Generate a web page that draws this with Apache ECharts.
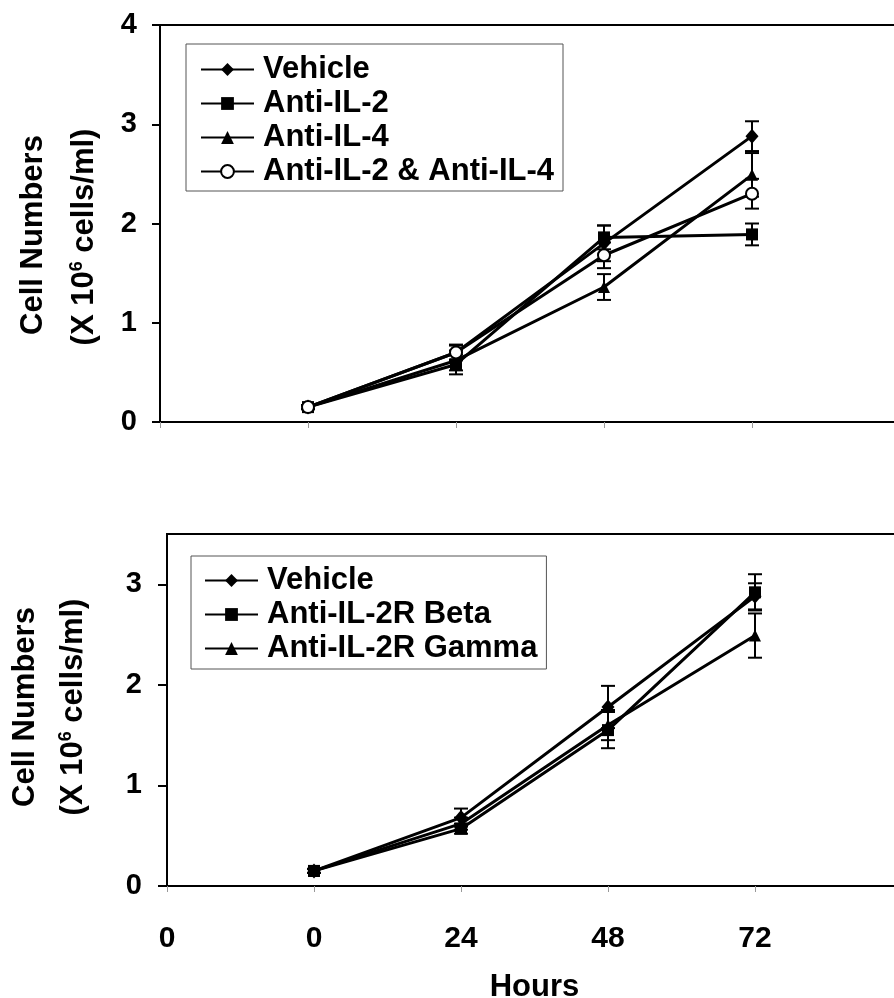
<!DOCTYPE html>
<html>
<head>
<meta charset="utf-8">
<script src="https://cdn.jsdelivr.net/npm/echarts@6/dist/echarts.min.js"></script>
<style>
  html, body { margin: 0; padding: 0; background: #fff; }
  #chart { width: 894px; height: 998px; }
</style>
</head>
<body>
<div id="chart"></div>
<script>
// Category ticks along the time axis; samples sit on categories 1..4
const xTickLabels = ['0', '0', '24', '48', '72', ''];
const hours = ['0', '24', '48', '72'];

// Upper panel: neutralising antibodies to IL-2 / IL-4
const vehicleA = [0.15, 0.70, 1.80, 2.88];
const vehicleAErr = [0.02, 0.08, 0.18, 0.15];
const antiIL2A = [0.15, 0.58, 1.86, 1.89];
const antiIL2AErr = [0.02, 0.10, 0.12, 0.11];
const antiIL4A = [0.15, 0.62, 1.36, 2.49];
const antiIL4AErr = [0.02, 0.10, 0.13, 0.22];
const comboA = [0.15, 0.70, 1.68, 2.30];
const comboAErr = [0.02, 0.07, 0.13, 0.15];

// Lower panel: antibodies to IL-2 receptor chains
const vehicleB = [0.15, 0.68, 1.78, 2.88];
const vehicleBErr = [0.02, 0.09, 0.21, 0.13];
const betaB = [0.15, 0.57, 1.55, 2.92];
const betaBErr = [0.02, 0.05, 0.18, 0.18];
const gammaB = [0.15, 0.62, 1.60, 2.49];
const gammaBErr = [0.02, 0.06, 0.15, 0.22];

const yTicksA = [0, 1, 2, 3, 4];
const yTicksB = [0, 1, 2, 3];

const FONT = "'Liberation Sans', Arial, sans-serif";

function lineSeries(name, values, symbol, panel, hollow) {
  return {
    type: 'line',
    name: name,
    xAxisIndex: panel,
    yAxisIndex: panel,
    data: values.map((v, i) => [i + 1, v]),
    symbol: symbol,
    symbolSize: symbol === 'diamond' ? [13, 15] : 12,
    showSymbol: true,
    lineStyle: { color: '#000', width: 3 },
    itemStyle: hollow
      ? { color: '#fff', borderColor: '#000', borderWidth: 2 }
      : { color: '#000', borderWidth: 0 },
    emphasis: { disabled: true },
    z: 3
  };
}

function errSeries(key, values, errs, panel) {
  return {
    type: 'custom',
    name: 'err-' + key,
    xAxisIndex: panel,
    yAxisIndex: panel,
    z: 2,
    silent: true,
    encode: { x: 0, y: [1, 2] },
    data: values.map((v, i) => [i + 1, v - errs[i], v + errs[i]]),
    renderItem: function (params, api) {
      const lo = api.coord([api.value(0), api.value(1)]);
      const hi = api.coord([api.value(0), api.value(2)]);
      const hw = 7;
      const st = { stroke: '#000', lineWidth: 2 };
      return {
        type: 'group',
        children: [
          { type: 'line', shape: { x1: lo[0], y1: lo[1], x2: hi[0], y2: hi[1] }, style: st },
          { type: 'line', shape: { x1: lo[0] - hw, y1: lo[1], x2: lo[0] + hw, y2: lo[1] }, style: st },
          { type: 'line', shape: { x1: hi[0] - hw, y1: hi[1], x2: hi[0] + hw, y2: hi[1] }, style: st }
        ]
      };
    }
  };
}

function xAxis(panel, showLabels) {
  return {
    type: 'category',
    gridIndex: panel,
    data: xTickLabels,
    boundaryGap: false,
    axisLine: { lineStyle: { color: '#000', width: 2 } },
    axisTick: { show: true, interval: 0, length: 6, lineStyle: { color: '#999', width: 1 } },
    axisLabel: {
      show: showLabels, interval: 0, margin: 38,
      fontFamily: FONT, fontWeight: 'bold', fontSize: 30, color: '#000'
    },
    splitLine: { show: false },
    name: showLabels ? 'Hours' : '',
    nameLocation: 'middle',
    nameGap: 86,
    nameTextStyle: { fontFamily: FONT, fontWeight: 'bold', fontSize: 31, color: '#000' }
  };
}

function yAxis(panel, max, ticks, margin, tickLen) {
  return {
    type: 'value',
    gridIndex: panel,
    min: 0,
    max: max,
    interval: 1,
    axisLine: { show: true, lineStyle: { color: '#000', width: 2 } },
    axisTick: { show: true, length: tickLen, customValues: ticks, lineStyle: { color: '#000', width: 2 } },
    axisLabel: {
      customValues: ticks, margin: margin,
      fontFamily: FONT, fontWeight: 'bold', fontSize: 29, color: '#000'
    },
    splitLine: { show: false }
  };
}

function legend(names, left, top, padding) {
  return {
    data: names,
    orient: 'vertical',
    left: left,
    top: top,
    padding: padding,
    itemWidth: 53,
    itemHeight: 16,
    itemGap: 3,
    borderColor: '#555',
    borderWidth: 1,
    backgroundColor: '#fff',
    selectedMode: false,
    textStyle: {
      fontFamily: FONT, fontWeight: 'bold', fontSize: 31, lineHeight: 31,
      color: '#000', padding: [0, 0, 0, 4]
    }
  };
}

function yName(x, y, rich) {
  return {
    type: 'text',
    x: x, y: y,
    rotation: Math.PI / 2,
    style: {
      text: rich,
      align: 'center',
      verticalAlign: 'middle',
      rich: {
        a: { fontFamily: FONT, fontWeight: 'bold', fontSize: 31, lineHeight: 31, fill: '#000' },
        s: { fontFamily: FONT, fontWeight: 'bold', fontSize: 18, fill: '#000', verticalAlign: 'top' }
      }
    }
  };
}

const chart = echarts.init(document.getElementById('chart'), null, { renderer: 'canvas' });
chart.setOption({
  animation: false,
  backgroundColor: '#fff',
  grid: [
    { left: 160, top: 25, width: 740, height: 397, outerBoundsMode: 'none', containLabel: false,
      show: true, borderColor: '#000', borderWidth: 2, backgroundColor: 'transparent' },
    { left: 167, top: 534, width: 735, height: 352, outerBoundsMode: 'none', containLabel: false,
      show: true, borderColor: '#000', borderWidth: 2, backgroundColor: 'transparent' }
  ],
  xAxis: [xAxis(0, false), xAxis(1, true)],
  yAxis: [yAxis(0, 4, yTicksA, 23, 8), yAxis(1, 3.5, yTicksB, 25, 9)],
  legend: [
    legend(['Vehicle', 'Anti-IL-2', 'Anti-IL-4', 'Anti-IL-2 & Anti-IL-4'], 186, 44, [10, 9, 4, 14]),
    legend(['Vehicle', 'Anti-IL-2R Beta', 'Anti-IL-2R Gamma'], 191, 556, [9, 9, 5, 13])
  ],
  graphic: [
    yName(33, 235, '{a|Cell Numbers}'),
    yName(84, 237, '{a|(X 10}{s|6}{a| cells/ml)}'),
    yName(25, 707, '{a|Cell Numbers}'),
    yName(73, 707, '{a|(X 10}{s|6}{a| cells/ml)}')
  ],
  series: [
    errSeries('vehA', vehicleA, vehicleAErr, 0),
    errSeries('il2A', antiIL2A, antiIL2AErr, 0),
    errSeries('il4A', antiIL4A, antiIL4AErr, 0),
    errSeries('comboA', comboA, comboAErr, 0),
    lineSeries('Vehicle', vehicleA, 'diamond', 0, false),
    lineSeries('Anti-IL-2', antiIL2A, 'rect', 0, false),
    lineSeries('Anti-IL-4', antiIL4A, 'triangle', 0, false),
    lineSeries('Anti-IL-2 & Anti-IL-4', comboA, 'circle', 0, true),
    errSeries('vehB', vehicleB, vehicleBErr, 1),
    errSeries('betaB', betaB, betaBErr, 1),
    errSeries('gammaB', gammaB, gammaBErr, 1),
    lineSeries('Vehicle', vehicleB, 'diamond', 1, false),
    lineSeries('Anti-IL-2R Beta', betaB, 'rect', 1, false),
    lineSeries('Anti-IL-2R Gamma', gammaB, 'triangle', 1, false)
  ]
});
</script>
</body>
</html>
